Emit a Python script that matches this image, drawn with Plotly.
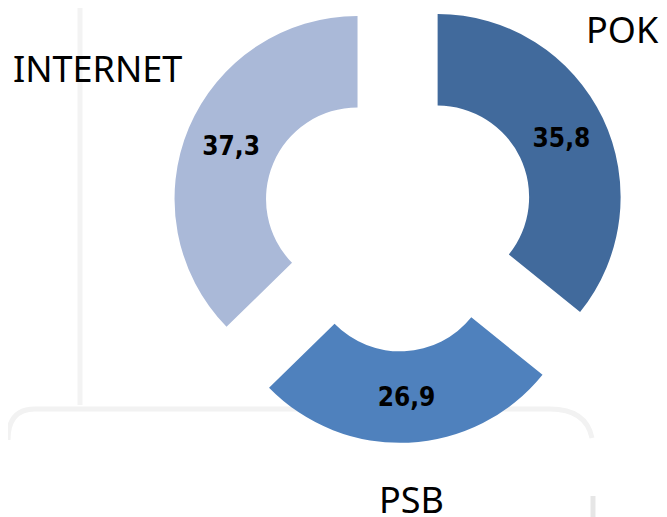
import math
import plotly.graph_objects as go

# ---- data ----
categories = ["POK", "PSB", "INTERNET"]
values = [35.8, 26.9, 37.3]
colors = ["#416A9C", "#4F81BD", "#AAB9D8"]

# ---- layout constants ----
OFF = 8                 # default page body margin in the browser
W, H = 667 - OFF, 517 - OFF
CX, CY = 398 - OFF, 216 - OFF   # centre of the un-exploded donut (px, figure coords)
R = 183                # outer radius (px)
HOLE = 0.50
PULL = 0.24            # explode distance as fraction of radius

# label anchor positions (page px) for the category names
label_pos = {"POK": (622, 29), "PSB": (411, 499), "INTERNET": (98, 69)}


def px(x):
    return (x - OFF) / W


def py(y):
    return 1 - (y - OFF) / H


fig = go.Figure()
total = sum(values)
cum = 0.0
for i, (cat, v) in enumerate(zip(categories, values)):
    mid = (cum + v / 2) / total * 2 * math.pi   # clockwise from 12 o'clock
    cum += v
    dx = PULL * R * math.sin(mid)
    dy = -PULL * R * math.cos(mid)
    sx, sy = CX + dx, CY + dy
    slice_colors = [c if j == i else "rgba(0,0,0,0)" for j, c in enumerate(colors)]
    templ = ["%{value:.1f}" if j == i else "" for j in range(len(values))]
    fig.add_trace(go.Pie(
        labels=categories, values=values, sort=False, direction="clockwise",
        rotation=0, hole=HOLE,
        marker=dict(colors=slice_colors, line=dict(width=0)),
        texttemplate=templ, textposition="inside", insidetextorientation="horizontal",
        textfont=dict(family="DejaVu Sans Condensed, DejaVu Sans", size=26, color="#000000", weight="bold"),
        domain=dict(x=[(sx - R) / W, (sx + R) / W], y=[1 - (sy + R) / H, 1 - (sy - R) / H]),
        showlegend=False, hoverinfo="label+value",
    ))

for cat in categories:
    x, y = label_pos[cat]
    fig.add_annotation(x=px(x), y=py(y), xref="paper", yref="paper", text=cat,
                       showarrow=False, xanchor="center", yanchor="middle",
                       font=dict(family="Noto Sans", size=36, color="#000000"))

# faint background frame remnants
fig.add_shape(type="line", xref="paper", yref="paper", x0=px(80), x1=px(80), y0=1, y1=py(405),
              line=dict(color="#F3F3F3", width=5), layer="below")
fig.add_shape(type="path", xref="paper", yref="paper",
              path=f"M {px(8)} {py(440)} Q {px(8)} {py(409)} {px(35)} {py(409)} L {px(550)} {py(409)} "
                   f"Q {px(586)} {py(409)} {px(592)} {py(438)}",
              line=dict(color="#F2F2F2", width=5), layer="below")
fig.add_shape(type="line", xref="paper", yref="paper", x0=px(593), x1=px(593), y0=py(496), y1=0,
              line=dict(color="#E6E6E6", width=5), layer="below")

fig.update_layout(
    width=W, height=H, margin=dict(l=0, r=0, t=0, b=0),
    paper_bgcolor="#FFFFFF", plot_bgcolor="#FFFFFF",
    separators=",.", showlegend=False,
)
fig.write_html("out.html")
